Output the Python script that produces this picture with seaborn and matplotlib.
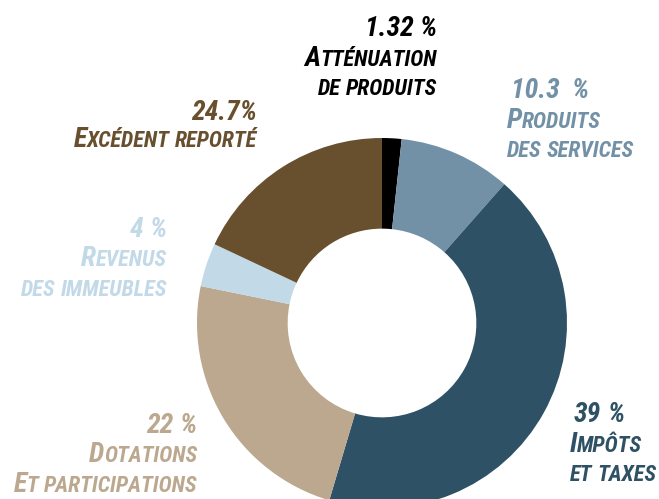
import matplotlib
matplotlib.use("Agg")
import matplotlib.pyplot as plt
from matplotlib import font_manager
import seaborn as sns

# slices clockwise from 12 o'clock
categories = ["Atténuation de produits", "Produits des services", "Impôts et taxes",
              "Dotations et participations", "Revenus des immeubles", "Excédent reporté"]
# sizes of the ring segments as drawn in the picture
shares = [1.7, 9.8, 43.1, 23.6, 3.8, 18.0]
# percentages printed next to each segment
pct_labels = ["1.32 %", "10.3  %", "39 %", "22 %", "4 %", "24.7%"]
# caption lines (capital letter = large small-cap letter)
caption_lines = [
    ["Atténuation", "de produits"],
    ["Produits", "des services"],
    ["Impôts", "et taxes"],
    ["Dotations", "Et participations"],
    ["Revenus", "des immeubles"],
    ["Excédent reporté"],
]
colors = ["#000000", "#7291a6", "#2e5165", "#bba88f", "#c2d9e8", "#684f2e"]

sns.set_style("white")
names = {f.name for f in font_manager.fontManager.ttflist}
font = "DejaVu Sans"
for cand in ["Liberation Sans Narrow", "Roboto Condensed", "Open Sans Condensed"]:
    if cand in names:
        font = cand
        break
plt.rcParams["font.family"] = [font, "DejaVu Sans"]

W, H = 659, 499
fig = plt.figure(figsize=(W / 100, H / 100), dpi=100)

# donut
cx, cy, R = 382, 323, 185
ax = fig.add_axes([(cx - R) / W, (H - cy - R) / H, 2 * R / W, 2 * R / H])
ax.pie(shares, colors=sns.color_palette(colors), startangle=90, counterclock=False,
       radius=1, wedgeprops=dict(width=0.49, linewidth=0))
ax.set_xlim(-1, 1)
ax.set_ylim(-1, 1)
ax.axis("off")

# overlay in pixel coordinates for the labels
tx = fig.add_axes([0, 0, 1, 1])
tx.set_xlim(0, W)
tx.set_ylim(H, 0)
tx.axis("off")
tx.patch.set_alpha(0)

renderer = fig.canvas.get_renderer()
BIG, SMALL, NUM = 20, 16, 20


def runs_of(word):
    out = []
    for ch in word:
        size = BIG if ch.isupper() else SMALL
        if out and out[-1][1] == size:
            out[-1][0] += ch
        else:
            out.append([ch, size])
    return [(s.upper(), size) for s, size in out]


def draw_line(x, y, text, align, color, caps=True):
    words = text.split(" ")
    pieces = []
    for i, w in enumerate(words):
        if i > 0:
            pieces.append(None)
        if caps:
            pieces.extend(runs_of(w))
        else:
            pieces.append((w, NUM))
    if align == "right":
        pieces = pieces[::-1]
    pos = x
    for p in pieces:
        if p is None:
            gap = 5 if caps else 6
            pos = pos - gap if align == "right" else pos + gap
            continue
        s, size = p
        t = tx.text(pos, y, s, ha=align, va="baseline", fontsize=size, color=color,
                    fontstyle="italic", fontweight="bold")
        w = t.get_window_extent(renderer).width
        pos = pos - w if align == "right" else pos + w


# anchor x, first baseline, alignment for each caption
anchors = [
    (437, 36, "right"),
    (507, 98, "left"),
    (570, 422, "left"),
    (197, 433, "right"),
    (167, 237, "right"),
    (257, 120, "right"),
]
line_gap = 29.5

for i, (x, y, align) in enumerate(anchors):
    draw_line(x + (4 if align == "left" else 0), y, pct_labels[i], align, colors[i], caps=False)
    for j, line in enumerate(caption_lines[i]):
        yy = y + (j + 1) * line_gap
        if i == 5:
            yy = y + 27
        draw_line(x, yy, line, align, colors[i])

fig.savefig("out.png", dpi=100)
